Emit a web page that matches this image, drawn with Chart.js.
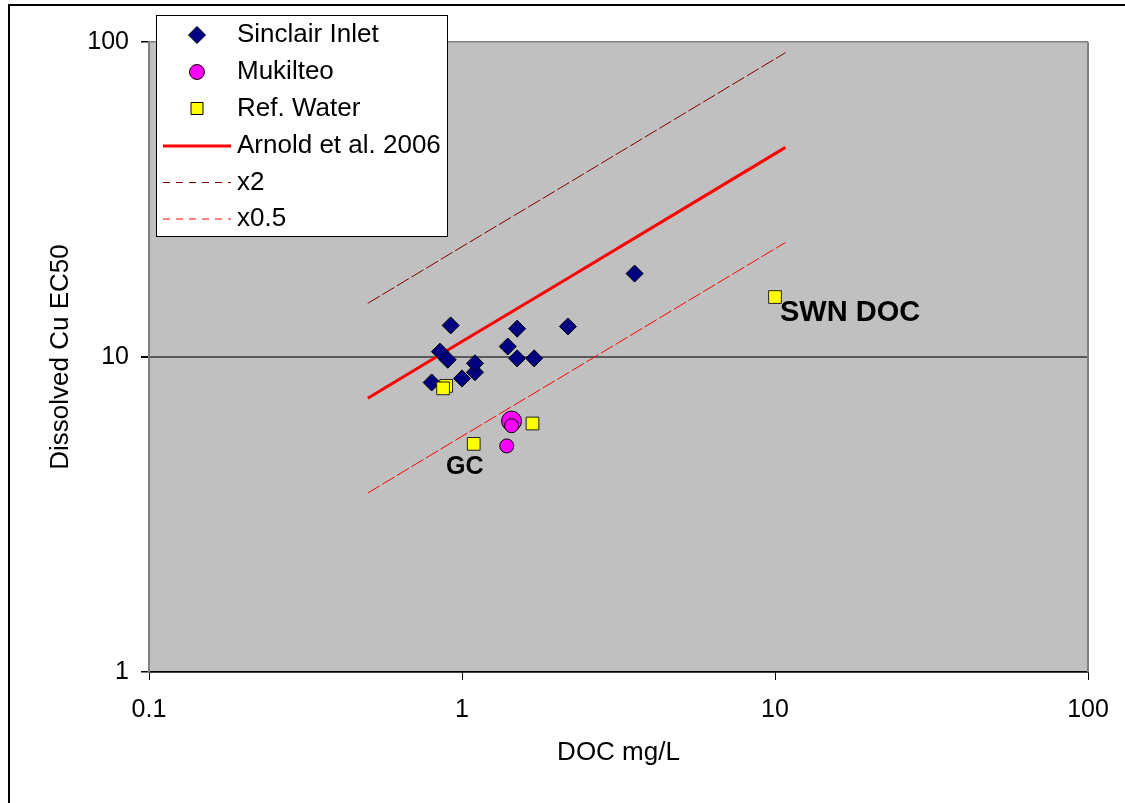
<!DOCTYPE html>
<html><head><meta charset="utf-8">
<script src="https://cdn.jsdelivr.net/npm/chart.js@4"></script>
<style>html,body{margin:0;padding:0;background:#fff;}#wrap{width:1125px;height:803px;position:relative;}</style>
</head><body><div id="wrap"><canvas id="c" width="1125" height="803"></canvas></div>
<script>
// ---- data ----
const sinclairDOC  = [0.80, 1.00, 1.10, 1.10, 0.85, 0.90, 1.40, 1.50, 1.70, 0.92, 1.50, 2.18, 3.56];
const sinclairEC50 = [8.3,  8.55, 8.95, 9.55, 10.4, 9.8,  10.8, 9.9,  9.9,  12.6, 12.3, 12.5, 18.4];
const mukilteoDOC  = [1.44, 1.44, 1.39];
const mukilteoEC50 = [6.26, 6.05, 5.22];
const refDOC  = [0.89, 0.87, 1.68, 1.09, 10.0];
const refEC50 = [8.1,  7.95, 6.15, 5.3,  15.5];
const modelDOC   = [0.5, 1, 2, 5, 10.8];
const arnoldEC50 = [7.4, 11.2, 16.9, 29.2, 46.3];
const x2EC50     = [14.8, 22.4, 33.8, 58.4, 92.5];
const x05EC50    = [3.7, 5.6, 8.45, 14.6, 23.1];
const xTicks = [0.1, 1, 10, 100];
const xTickLabels = ['0.1', '1', '10', '100'];
const yTicks = [1, 10, 100];
const yTickLabels = ['1', '10', '100'];
const annotationLabels = ['GC', 'SWN DOC'];
const annotationRefIndex = [3, 4];

const FONT = "'Liberation Sans', Arial, sans-serif";
const pts = (xs, ys) => xs.map((x, i) => ({x: x, y: ys[i]}));

const datasets = [
  {label: 'Sinclair Inlet', data: pts(sinclairDOC, sinclairEC50), pointStyle: 'rectRot', pointRadius: 8.5,
   backgroundColor: '#000080', borderColor: '#000', pointBorderWidth: 1, showLine: false, order: 3},
  {label: 'Mukilteo', data: pts(mukilteoDOC, mukilteoEC50), pointStyle: 'circle', pointRadius: [10, 7, 7],
   backgroundColor: '#FF00FF', borderColor: '#000', pointBorderWidth: 1, showLine: false, order: 2},
  {label: 'Ref. Water', data: pts(refDOC, refEC50), pointStyle: 'rect', pointRadius: 9,
   backgroundColor: '#FFFF00', borderColor: '#222', pointBorderWidth: 1, showLine: false, order: 1},
  {label: 'Arnold et al. 2006', data: pts(modelDOC, arnoldEC50), showLine: true, pointRadius: 0,
   borderColor: '#FF0000', borderWidth: 3, order: 4},
  {label: 'x2', data: pts(modelDOC, x2EC50), showLine: true, pointRadius: 0,
   borderColor: '#800000', borderWidth: 1, borderDash: [14, 3], order: 5},
  {label: 'x0.5', data: pts(modelDOC, x05EC50), showLine: true, pointRadius: 0,
   borderColor: '#FF0000', borderWidth: 1, borderDash: [14, 3], order: 6}
];

const decorPlugin = {
  id: 'decor',
  beforeDraw(chart) {
    const {ctx, chartArea: a} = chart;
    ctx.save();
    ctx.fillStyle = '#fff';
    ctx.fillRect(0, 0, chart.width, chart.height);
    ctx.fillStyle = '#C0C0C0';
    ctx.fillRect(a.left, a.top, a.right - a.left, a.bottom - a.top);
    ctx.strokeStyle = '#000';
    ctx.lineWidth = 2;
    ctx.strokeRect(9, 5, 1400, 1000);
    ctx.restore();
  },
  beforeDatasetsDraw(chart) {
    const {ctx, chartArea: a} = chart;
    ctx.save();
    ctx.strokeStyle = '#808080';
    ctx.lineWidth = 2;
    ctx.beginPath();
    ctx.moveTo(a.right, a.top);
    ctx.lineTo(a.right, a.bottom);
    ctx.stroke();
    ctx.restore();
  },
  afterDraw(chart) {
    const {ctx, scales} = chart;
    ctx.save();
    // annotations
    ctx.fillStyle = '#000';
    ctx.textBaseline = 'middle';
    let i0 = annotationRefIndex[0];
    let px = scales.x.getPixelForValue(refDOC[i0]), py = scales.y.getPixelForValue(refEC50[i0]);
    ctx.font = 'bold 25px ' + FONT;
    ctx.textAlign = 'center';
    ctx.fillText(annotationLabels[0], px - 9, py + 23);
    let i1 = annotationRefIndex[1];
    px = scales.x.getPixelForValue(refDOC[i1]); py = scales.y.getPixelForValue(refEC50[i1]);
    ctx.font = 'bold 29px ' + FONT;
    ctx.textAlign = 'left';
    ctx.fillText(annotationLabels[1], px + 5, py + 16);

    // legend
    const L = 156, T = 15, R = 447, B = 236;
    ctx.fillStyle = '#fff';
    ctx.fillRect(L, T, R - L, B - T);
    ctx.strokeStyle = '#000';
    ctx.lineWidth = 1;
    ctx.strokeRect(L + 0.5, T + 0.5, R - L, B - T);
    const rowY = [35, 72, 108.5, 146, 182.5, 219];
    ctx.font = '26px ' + FONT;
    ctx.textAlign = 'left';
    ctx.textBaseline = 'middle';
    chart.data.datasets.forEach((ds, i) => {
      const y = rowY[i];
      const cx = 197;
      if (ds.showLine) {
        ctx.save();
        ctx.strokeStyle = ds.borderColor;
        ctx.lineWidth = ds.borderWidth;
        ctx.setLineDash(ds.borderDash ? [7, 6] : []);
        ctx.beginPath();
        ctx.moveTo(163, y);
        ctx.lineTo(231, y);
        ctx.stroke();
        ctx.restore();
      } else {
        ctx.save();
        ctx.fillStyle = ds.backgroundColor;
        ctx.strokeStyle = '#000';
        ctx.lineWidth = 1;
        ctx.beginPath();
        if (ds.pointStyle === 'rectRot') {
          ctx.moveTo(cx, y - 8.5); ctx.lineTo(cx + 8.5, y); ctx.lineTo(cx, y + 8.5); ctx.lineTo(cx - 8.5, y); ctx.closePath();
        } else if (ds.pointStyle === 'circle') {
          ctx.arc(cx, y, 7.5, 0, Math.PI * 2);
        } else {
          ctx.rect(cx - 6, y - 6, 12, 12);
        }
        ctx.fill();
        ctx.stroke();
        ctx.restore();
      }
      ctx.fillStyle = '#000';
      ctx.fillText(ds.label, 237, y);
    });
    ctx.restore();
  }
};

new Chart(document.getElementById('c'), {
  type: 'scatter',
  data: {datasets: datasets},
  options: {
    responsive: false, animation: false, devicePixelRatio: 1,
    layout: {padding: {left: 0, right: 37, top: 42, bottom: 0}},
    plugins: {legend: {display: false}, tooltip: {enabled: false}},
    scales: {
      x: {
        type: 'logarithmic', min: 0.1, max: 100, position: 'bottom',
        afterBuildTicks: s => { s.ticks = xTicks.map(v => ({value: v})); },
        afterFit: s => { s.height = 131; },
        ticks: {callback: (v, i) => xTickLabels[i], font: {family: FONT, size: 25}, color: '#000',
                padding: 15, maxRotation: 0, autoSkip: false},
        grid: {drawOnChartArea: false, drawTicks: true, tickLength: 8, color: '#000'},
        border: {color: '#000', width: 1.5},
        title: {display: true, text: 'DOC mg/L', font: {family: FONT, size: 26}, color: '#000',
                padding: {top: 0, bottom: 35}}
      },
      y: {
        type: 'logarithmic', min: 1, max: 100,
        afterBuildTicks: s => { s.ticks = yTicks.map(v => ({value: v})); },
        afterFit: s => { s.width = 149; },
        ticks: {callback: (v, i) => yTickLabels[i], font: {family: FONT, size: 25}, color: '#000',
                padding: 12, autoSkip: false},
        grid: {drawOnChartArea: true, drawTicks: true, tickLength: 8, tickColor: '#000',
               color: c => (c.tick && c.tick.value === 10) ? '#5a5a5a' : (c.tick && c.tick.value === 100 ? '#808080' : '#000'),
               lineWidth: c => (c.tick && c.tick.value === 10) ? 2 : 1.5},
        border: {color: '#808080', width: 2},
        title: {display: true, text: 'Dissolved Cu EC50', font: {family: FONT, size: 26}, color: '#000',
                padding: {top: 45, bottom: 0}}
      }
    }
  },
  plugins: [decorPlugin]
});
</script></body></html>
